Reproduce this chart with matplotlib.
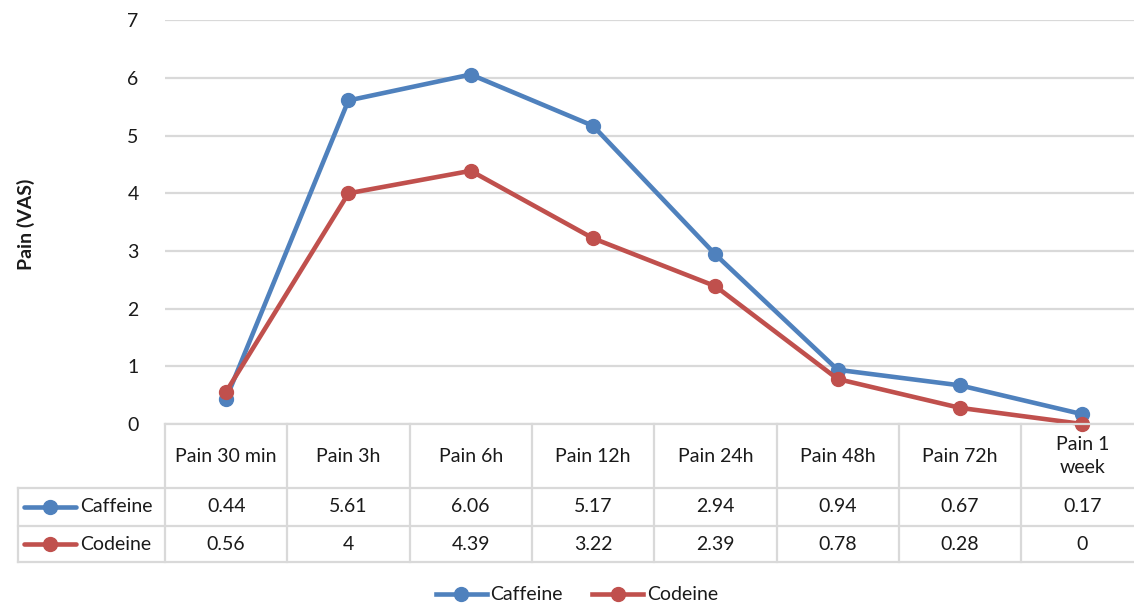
import matplotlib
matplotlib.use('Agg')
import matplotlib.pyplot as plt
from matplotlib.lines import Line2D

# ---------------- data ----------------
categories = ["Pain 30 min", "Pain 3h", "Pain 6h", "Pain 12h", "Pain 24h",
              "Pain 48h", "Pain 72h", "Pain 1\nweek"]
caffeine = [0.44, 5.61, 6.06, 5.17, 2.94, 0.94, 0.67, 0.17]
codeine = [0.56, 4, 4.39, 3.22, 2.39, 0.78, 0.28, 0]
series_names = ["Caffeine", "Codeine"]
y_ticks = [0, 1, 2, 3, 4, 5, 6, 7]
y_label = "Pain (VAS)"

# ---------------- style ----------------
BLUE = "#4F81BD"
RED = "#C0504D"
GRID = "#D9D9D9"
TXT = "#1a1a1a"
FONT = ["Lato", "DejaVu Sans"]
plt.rcParams['font.family'] = FONT
FS = 14

W, H = 1134, 606
fig = plt.figure(figsize=(W / 100, H / 100), dpi=100)

n = len(categories)
col_w = 122.3
x0 = 165
y_top, y_zero = 20.3, 424
t_hdr, t_r1, t_r2 = 488, 526, 562
LW, MS = 3.3, 10

ax = fig.add_axes([x0 / W, (H - y_zero) / H, n * col_w / W, (y_zero - y_top) / H])
xs = list(range(n))
series = [caffeine, codeine]
colors = [BLUE, RED]
for vals, c, name in zip(series, colors, series_names):
    ax.plot(xs, vals, color=c, lw=LW, marker='o', ms=MS, label=name,
            clip_on=False, zorder=5, solid_capstyle='round')

ax.set_xlim(-0.5, n - 0.5)
ax.set_ylim(0, 7)
ax.set_yticks(y_ticks)
ax.set_yticklabels([str(t) for t in y_ticks], fontsize=FS, color=TXT)
ax.set_xticks([])
ax.yaxis.grid(True, color=GRID, lw=1.6)
ax.set_axisbelow(True)
for s in ax.spines.values():
    s.set_visible(False)
ax.tick_params(axis='y', length=0, pad=19)

fig.text(26 / W, (H - 224) / H, y_label, rotation=90, ha='center', va='center',
         fontsize=FS, fontweight='bold', color=TXT)

# ---------------- data table ----------------
tax = fig.add_axes([x0 / W, (H - t_r2) / H, n * col_w / W, (t_r2 - y_zero) / H])
tax.set_xlim(-0.5, n - 0.5)
tax.set_ylim(t_r2 - y_zero, 0)
tax.axis('off')

def px2x(px):
    return -0.5 + (px - x0) / col_w

lx = px2x(18)
h_hdr = t_hdr - y_zero
h_r1 = t_r1 - y_zero
h_r2 = t_r2 - y_zero
lk = dict(color=GRID, lw=1.6, clip_on=False, zorder=1)
tax.plot([-0.5, n - 0.5], [0, 0], **lk)
for yy in (h_hdr, h_r1, h_r2):
    tax.plot([lx, n - 0.5], [yy, yy], **lk)
for i in range(n + 1):
    tax.plot([i - 0.5, i - 0.5], [0, h_r2], **lk)
tax.plot([lx, lx], [h_hdr, h_r2], **lk)

for i, cat in enumerate(categories):
    tax.text(i, h_hdr / 2, cat, ha='center', va='center', fontsize=FS, color=TXT,
             linespacing=1.45)
row_centers = [(h_hdr + h_r1) / 2, (h_r1 + h_r2) / 2]
for vals, c, name, yc in zip(series, colors, series_names, row_centers):
    for i, v in enumerate(vals):
        tax.text(i, yc, f"{v:g}", ha='center', va='center', fontsize=FS, color=TXT)
    tax.plot([px2x(24), px2x(76)], [yc, yc], color=c, lw=LW, clip_on=False,
             solid_capstyle='round')
    tax.plot([px2x(50)], [yc], color=c, marker='o', ms=MS, clip_on=False)
    tax.text(px2x(80), yc, name, ha='left', va='center', fontsize=FS, color=TXT)

# ---------------- legend ----------------
handles = [Line2D([], [], color=c, lw=LW, marker='o', ms=MS) for c in colors]
fig.legend(handles, series_names, loc='center', bbox_to_anchor=(577 / W, (H - 595) / H),
           ncol=2, frameon=False, fontsize=FS, handlelength=2.6, handletextpad=0.2,
           columnspacing=1.5, labelcolor=TXT)

fig.savefig("out.png", dpi=100)
